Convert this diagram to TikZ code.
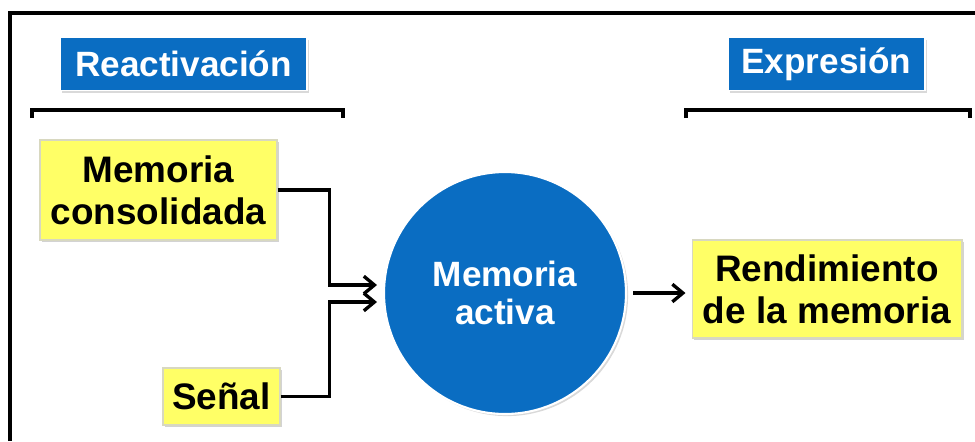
\documentclass[tikz,border=0pt]{standalone}
\usepackage{fontspec}
\setmainfont{Liberation Sans}
\usepackage{tikz}
\usepackage{xcolor}
\usetikzlibrary{positioning, arrows.meta, shadows, calc}
\definecolor{cBlue}{HTML}{0A6DC2}
\definecolor{cNote}{HTML}{FFFF66}
\definecolor{cEdge}{HTML}{D8D8C0}

\begin{document}
\begin{tikzpicture}[x=0.02cm, y=-0.02cm,
    notebox/.style={fill=cNote, draw=cEdge, line width=0.6pt, align=center, inner sep=0pt,
      font=\bfseries\fontsize{21}{24}\selectfont,
      drop shadow={opacity=0.35, shadow xshift=1.2pt, shadow yshift=-1.2pt}},
    phasebox/.style={fill=cBlue, draw=white, line width=1pt, text=white, inner sep=0pt,
      minimum height=1.06cm, font=\bfseries\fontsize{20}{24}\selectfont,
      drop shadow={opacity=0.3, shadow xshift=1.2pt, shadow yshift=-1.2pt}},
    linkarrow/.style={line width=1.9pt, -{Straight Barb[length=6pt, width=10pt]}},
    brace/.style={line width=1.9pt}]
  \useasboundingbox (0,0) rectangle (975,441);
  \draw[line width=2.1pt] (10,441) -- (10,13) -- (975,13);

  % phase titles
  \node[phasebox, minimum width=4.94cm] (reac) at (183.5,64) {Reactivación};
  \node[phasebox, minimum width=3.94cm] (expr) at (826.5,64) {Expresión};
  \draw[brace] (32,118) |- (343,110) -- (343,118);
  \draw[brace] (686,118) |- (970,110) -- (970,118);

  % boxes
  \node[notebox, minimum width=4.74cm, minimum height=2cm] (cons) at (158.5,190) {Memoria\\consolidada};
  \node[notebox, minimum width=2.34cm, minimum height=1.14cm] (senal) at (221.5,396.5) {Señal};
  \node[notebox, minimum width=5.4cm, minimum height=1.96cm] (rend) at (827,289) {Rendimiento\\de la memoria};
  \node[circle, fill=cBlue, draw=white, line width=1.2pt, minimum size=4.84cm, text=white,
    align=center, font=\bfseries\fontsize{20}{22}\selectfont,
    drop shadow={opacity=0.3, shadow xshift=1.2pt, shadow yshift=-1.2pt}] (act) at (505,293) {Memoria\\activa};

  \coordinate (in1) at (377,285);
  \coordinate (in2) at (377,302);
  \draw[linkarrow] (cons.east) -- ++(52,0) |- (in1);
  \draw[linkarrow] (senal.east) -- ++(49,0) |- (in2);
  \draw[linkarrow] ([xshift=0.12cm]act.east) -- ([xshift=-0.12cm]act.east -| rend.west);
\end{tikzpicture}
\end{document}
